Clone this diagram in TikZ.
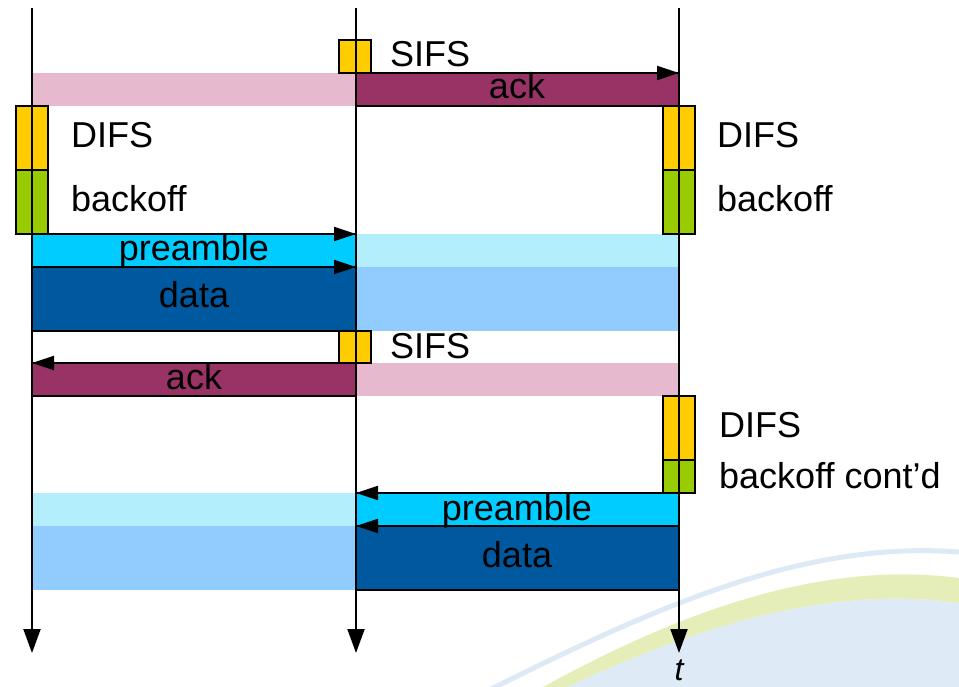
\documentclass[tikz,border=0pt]{standalone}
\usepackage{fontspec}
\setmainfont{Liberation Sans}
\usetikzlibrary{arrows.meta}
\definecolor{sifsY}{HTML}{FFCC00}
\definecolor{boG}{HTML}{99CC00}
\definecolor{ackD}{HTML}{993366}
\definecolor{ackL}{HTML}{E7B9CF}
\definecolor{preD}{HTML}{00CCFF}
\definecolor{preL}{HTML}{B3EEFC}
\definecolor{dataD}{HTML}{00599E}
\definecolor{dataL}{HTML}{92CCFF}
\definecolor{swBlue}{HTML}{DEEBF7}
\definecolor{swGreen}{HTML}{E5EDB8}
\definecolor{swLine}{HTML}{DDE9F5}
\begin{document}
\begin{tikzpicture}[x=1pt,y=-1pt,
  box/.style={anchor=north west, inner sep=0pt, outer sep=0pt, draw=black, line width=1.3pt},
  light/.style={anchor=north west, inner sep=0pt, outer sep=0pt, draw=none},
  slot/.style={minimum width=32pt},
  wl/.style={minimum width=324pt},
  wr/.style={minimum width=323pt},
  hs/.style={minimum height=33pt},
  ht/.style={minimum height=64pt},
  lbl/.style={anchor=base west, inner sep=0pt, font=\fontsize{36}{40}\selectfont},
  clbl/.style={anchor=base, inner sep=0pt, font=\fontsize{36}{40}\selectfont},
  axis/.style={line width=2pt, -{Triangle[length=24pt,width=17pt]}},
  barrow/.style={line width=1.8pt, -{Triangle[length=22pt,width=14pt]}}
]
\useasboundingbox (0,0) rectangle (959,687);
\fill[white] (0,0) rectangle (959,687);

% background swoosh
\fill[swBlue] (567,687) .. controls (700,625) and (830,585) .. (959,603) -- (959,690) -- (560,690) -- cycle;
\fill[swGreen] (543,687) .. controls (680,612) and (820,560) .. (959,578) -- (959,603) .. controls (830,585) and (700,625) .. (567,687) -- cycle;
\draw[swLine, line width=5pt] (485,692) .. controls (650,610) and (800,540) .. (959,552);

% light (other-station) bars
\node[light, fill=ackL, wl, hs] (ackL1) at (32,73) {};
\node[light, fill=preL, wr, hs] (preL1) at (356,234) {};
\node[light, fill=dataL, wr, ht] (dataL1) at (356,267) {};
\node[light, fill=ackL, wr, hs] (ackL2) at (356,363) {};
\node[light, fill=preL, wl, hs] (preL2) at (32,493) {};
\node[light, fill=dataL, wl, ht] (dataL2) at (32,526) {};

% transmitted frames
\node[box, fill=ackD, wr, hs] (ack1) at (356,73) {};
\node[box, fill=preD, wl, hs] (pre1) at (32,234) {};
\node[box, fill=dataD, wl, ht] (data1) at (32,267) {};
\node[box, fill=ackD, wl, hs] (ack2) at (32,363) {};
\node[box, fill=preD, wr, hs] (pre2) at (356,493) {};
\node[box, fill=dataD, wr, ht] (data2) at (356,526) {};

% interframe spaces
\node[box, fill=sifsY, slot, minimum height=33pt] (sifs1) at (339,40) {};
\node[box, fill=sifsY, slot, minimum height=32pt] (sifs2) at (339,331) {};
\node[box, fill=sifsY, slot, ht] (difsL) at (16,106) {};
\node[box, fill=boG, slot, ht] (boL) at (16,170) {};
\node[box, fill=sifsY, slot, ht] (difsR) at (663,106) {};
\node[box, fill=boG, slot, ht] (boR) at (663,170) {};
\node[box, fill=sifsY, slot, ht] (difsR2) at (663,396) {};
\node[box, fill=boG, slot, minimum height=33pt] (boR2) at (663,460) {};

% time axes
\coordinate (ax1t) at (32,8);  \coordinate (ax1b) at (32,653);
\coordinate (ax2t) at (356,8); \coordinate (ax2b) at (356,653);
\coordinate (ax3t) at (679,8); \coordinate (ax3b) at (679,653);
\draw[axis] (ax1t) -- (ax1b);
\draw[axis] (ax2t) -- (ax2b);
\draw[axis] (ax3t) -- (ax3b);

% frame arrows
\draw[barrow] (ack1.north west) -- (ack1.north east);
\draw[barrow] (pre1.north west) -- (pre1.north east);
\draw[barrow] (data1.north west) -- (data1.north east);
\draw[barrow] (ack2.north east) -- (ack2.north west);
\draw[barrow] (pre2.north east) -- (pre2.north west);
\draw[barrow] (data2.north east) -- (data2.north west);

% labels
\node[lbl] (tSifs1) at (390,67) {SIFS};
\node[lbl] (tSifs2) at (390,358) {SIFS};
\node[lbl] (tDifsL) at (71,148) {DIFS};
\node[lbl] (tBoL) at (71,212) {backoff};
\node[lbl] (tDifsR) at (717,148) {DIFS};
\node[lbl] (tBoR) at (717,212) {backoff};
\node[lbl] (tDifsR2) at (719,437) {DIFS};
\node[lbl] (tBoR2) at (719,488) {backoff cont’d};
\node[clbl] (tAck1) at (517,99) {ack};
\node[clbl] (tPre1) at (194,261) {preamble};
\node[clbl] (tData1) at (194,308) {data};
\node[clbl] (tAck2) at (194,389) {ack};
\node[clbl] (tPre2) at (517,520) {preamble};
\node[clbl] (tData2) at (517,567) {data};
\node[clbl, font=\fontsize{32}{36}\selectfont\itshape] (tTime) at (679,680) {t};
\end{tikzpicture}
\end{document}
